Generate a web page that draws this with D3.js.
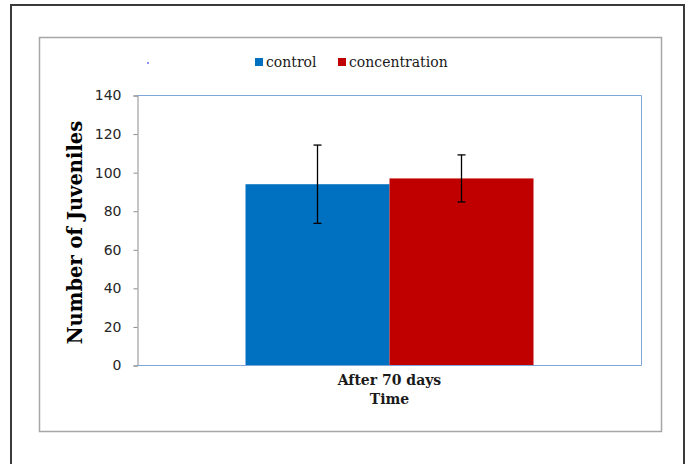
<!DOCTYPE html>
<html>
<head>
<meta charset="utf-8">
<script src="https://cdn.jsdelivr.net/npm/d3@7"></script>
<style>
html,body{margin:0;padding:0;background:#fff;}
svg{display:block;}
</style>
</head>
<body>
<svg id="chart" width="689" height="464"></svg>
<script>
const categories = ["After 70 days"];
const seriesNames = ["control", "concentration"];
const seriesColors = ["#0070C0", "#C00000"];
const controlValues = [94];
const concentrationValues = [97];
const controlErrors = [20.3];
const concentrationErrors = [12.2];
const yTicks = [0, 20, 40, 60, 80, 100, 120, 140];
const yTitle = "Number of Juveniles";
const xTitle = "Time";

const serif = "'DejaVu Serif', 'Liberation Serif', serif";
const svg = d3.select("#chart");

// outer frame
svg.append("rect").attr("x", 11).attr("y", 5).attr("width", 673).attr("height", 480)
  .attr("fill", "none").attr("stroke", "#3a3a3a").attr("stroke-width", 2);
// chart area frame
svg.append("rect").attr("x", 39.5).attr("y", 37.5).attr("width", 622).attr("height", 394)
  .attr("fill", "none").attr("stroke", "#a6a6a6").attr("stroke-width", 1.5);

const plot = {left: 137.5, right: 641.5, top: 95.5, bottom: 365.5};

const y = d3.scaleLinear().domain([0, 140]).range([plot.bottom, plot.top]);
const x0 = d3.scaleBand().domain(categories).range([plot.left, plot.right]).paddingInner(0).paddingOuter(0.375);
const x1 = d3.scaleBand().domain(seriesNames).range([0, x0.bandwidth()]).padding(0);

// plot border (top and right)
svg.append("path")
  .attr("d", `M${plot.left},${plot.top}H${plot.right}V${plot.bottom}`)
  .attr("fill", "none").attr("stroke", "#7ea6d8").attr("stroke-width", 1);

const data = categories.map((c, i) => ({
  cat: c,
  vals: [
    {name: seriesNames[0], v: controlValues[i], e: controlErrors[i], color: seriesColors[0]},
    {name: seriesNames[1], v: concentrationValues[i], e: concentrationErrors[i], color: seriesColors[1]}
  ]
}));

const groups = svg.selectAll("g.cat").data(data).enter().append("g")
  .attr("class", "cat").attr("transform", d => `translate(${x0(d.cat)},0)`);

groups.selectAll("rect").data(d => d.vals).enter().append("rect")
  .attr("x", d => x1(d.name))
  .attr("y", d => y(d.v))
  .attr("width", x1.bandwidth())
  .attr("height", d => y(0) - y(d.v))
  .attr("fill", d => d.color);

// error bars
const eb = groups.selectAll("g.err").data(d => d.vals).enter().append("g").attr("class", "err");
eb.append("line")
  .attr("x1", d => x1(d.name) + x1.bandwidth() / 2)
  .attr("x2", d => x1(d.name) + x1.bandwidth() / 2)
  .attr("y1", d => y(d.v + d.e)).attr("y2", d => y(d.v - d.e))
  .attr("stroke", "#000").attr("stroke-width", 1.3);
eb.selectAll("line.cap").data(d => [{d, s: 1}, {d, s: -1}]).enter().append("line")
  .attr("class", "cap")
  .attr("x1", o => x1(o.d.name) + x1.bandwidth() / 2 - 4)
  .attr("x2", o => x1(o.d.name) + x1.bandwidth() / 2 + 4)
  .attr("y1", o => y(o.d.v + o.s * o.d.e))
  .attr("y2", o => y(o.d.v + o.s * o.d.e))
  .attr("stroke", "#000").attr("stroke-width", 1.3);

// y axis
const yAxis = d3.axisLeft(y).tickValues(yTicks).tickSize(4).tickPadding(12);
const ya = svg.append("g").attr("transform", `translate(${plot.left},0)`).call(yAxis);
ya.select(".domain").attr("stroke", "#8c8c8c");
ya.selectAll(".tick line").attr("stroke", "#8c8c8c");
ya.selectAll(".tick text").attr("font-family", "'DejaVu Sans', sans-serif")
  .attr("font-size", "14px").attr("fill", "#262626");

// x axis
svg.append("line").attr("x1", plot.left).attr("x2", plot.right)
  .attr("y1", plot.bottom).attr("y2", plot.bottom)
  .attr("stroke", "#7ea6d8").attr("stroke-width", 1);

svg.selectAll("text.xcat").data(categories).enter().append("text")
  .attr("class", "xcat")
  .attr("x", d => x0(d) + x0.bandwidth() / 2).attr("y", 385)
  .attr("text-anchor", "middle")
  .attr("font-family", serif)
  .attr("font-weight", "bold").attr("font-size", "14px").attr("fill", "#1a1a1a")
  .text(d => d);

svg.append("text").attr("x", (plot.left + plot.right) / 2).attr("y", 404)
  .attr("text-anchor", "middle")
  .attr("font-family", serif)
  .attr("font-weight", "bold").attr("font-size", "14px").attr("fill", "#1a1a1a")
  .text(xTitle);

svg.append("text")
  .attr("transform", `translate(82,${(plot.top + plot.bottom) / 2 + 2}) rotate(-90)`)
  .attr("text-anchor", "middle")
  .attr("font-family", serif)
  .attr("font-weight", "bold").attr("font-size", "19.5px").attr("fill", "#000")
  .text(yTitle);

// legend
const legendX = [255, 338];
const lg = svg.selectAll("g.leg").data(seriesNames).enter().append("g")
  .attr("class", "leg").attr("transform", (d, i) => `translate(${legendX[i]},58)`);
lg.append("rect").attr("width", 8).attr("height", 8)
  .attr("fill", (d, i) => seriesColors[i]);
lg.append("text").attr("x", 11).attr("y", 9)
  .attr("font-family", serif)
  .attr("font-size", "14px").attr("fill", "#1a1a1a")
  .text(d => d);

// stray legend dot
svg.append("circle").attr("cx", 148).attr("cy", 63).attr("r", 0.9).attr("fill", "#5b5bf0");
</script>
</body>
</html>
